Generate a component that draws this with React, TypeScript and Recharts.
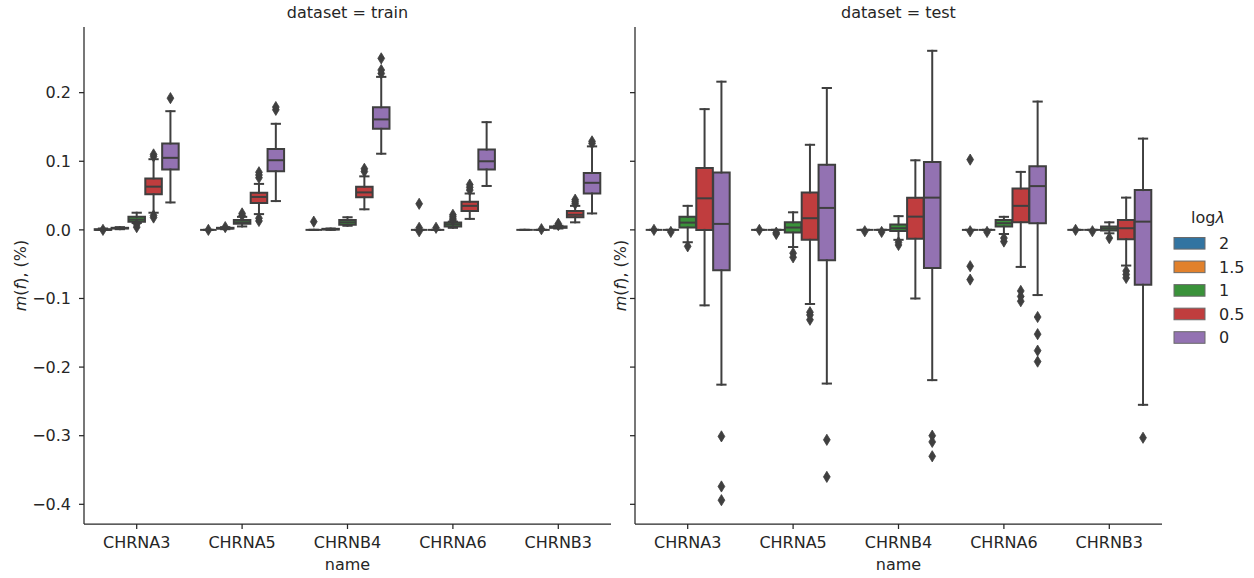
import React from 'react';
import { ComposedChart, XAxis, YAxis, Scatter, ReferenceArea, ReferenceLine } from 'recharts';

const NAMES = ['CHRNA3', 'CHRNA5', 'CHRNB4', 'CHRNA6', 'CHRNB3'];
const HUES = ['2', '1.5', '1', '0.5', '0'];
const HUE_COLORS = ['#3274a1', '#e1812c', '#3a923a', '#c03d3e', '#9372b2'];
const Y_TICKS = [-0.4, -0.3, -0.2, -0.1, 0, 0.1, 0.2];
const X_TICKS = [0, 1, 2, 3, 4];

// rows: names; columns: hues (2, 1.5, 1, 0.5, 0)
const TRAIN_LOW = [
  [0, 0.001, 0.010, 0.025, 0.040],
  [0, 0.001, 0.005, 0.023, 0.042],
  [0, 0, 0.006, 0.030, 0.111],
  [0, 0, 0.003, 0.016, 0.064],
  [0, 0, 0.002, 0.011, 0.024],
];
const TRAIN_Q1 = [
  [0, 0.002, 0.012, 0.052, 0.088],
  [0, 0.002, 0.009, 0.039, 0.0855],
  [0, 0.0005, 0.0075, 0.0474, 0.1473],
  [0, 0, 0.005, 0.0275, 0.088],
  [0, 0, 0.003, 0.0184, 0.053],
];
const TRAIN_MED = [
  [0, 0.0025, 0.015, 0.063, 0.105],
  [0, 0.002, 0.011, 0.048, 0.1015],
  [0, 0.001, 0.011, 0.0546, 0.161],
  [0, 0, 0.008, 0.035, 0.100],
  [0, 0, 0.004, 0.022, 0.0686],
];
const TRAIN_Q3 = [
  [0.001, 0.003, 0.019, 0.075, 0.126],
  [0, 0.003, 0.0145, 0.054, 0.118],
  [0, 0.0015, 0.0145, 0.0628, 0.1787],
  [0, 0, 0.0106, 0.041, 0.117],
  [0, 0, 0.005, 0.0275, 0.083],
];
const TRAIN_HIGH = [
  [0.002, 0.004, 0.025, 0.103, 0.173],
  [0, 0.004, 0.019, 0.067, 0.1546],
  [0, 0.002, 0.0184, 0.078, 0.223],
  [0, 0, 0.012, 0.053, 0.157],
  [0, 0, 0.006, 0.035, 0.1217],
];
const TRAIN_FLIERS = [
  [[0], [], [0.008, 0.004], [0.107, 0.110, 0.021, 0.018], [0.192]],
  [[0], [0.004], [0.021, 0.024], [0.076, 0.080, 0.084, 0.017, 0.013], [0.175, 0.179]],
  [[0.012], [], [], [0.085, 0.089], [0.228, 0.233, 0.250]],
  [[0.038, 0.003, -0.002], [0.003], [0.014, 0.016, 0.019, 0.022], [0.058, 0.062, 0.066], []],
  [[], [0.001], [0.007, 0.009], [0.038, 0.041, 0.044], [0.126, 0.129]],
];

const TEST_LOW = [
  [0, 0, -0.018, -0.110, -0.2256],
  [0, 0, -0.025, -0.108, -0.224],
  [0, 0, -0.0145, -0.100, -0.219],
  [0, 0, -0.006, -0.054, -0.095],
  [0, 0, -0.005, -0.052, -0.255],
];
const TEST_Q1 = [
  [0, 0, 0.0034, 0, -0.059],
  [0, 0, -0.004, -0.0145, -0.0444],
  [0, 0, -0.0015, -0.013, -0.0556],
  [0, 0, 0.0048, 0.011, 0.0097],
  [0, 0, -0.001, -0.0135, -0.080],
];
const TEST_MED = [
  [0, 0, 0.0106, 0.046, 0.0087],
  [0, 0, 0.0034, 0.017, 0.032],
  [0, 0, 0.0024, 0.0193, 0.047],
  [0, 0, 0.0097, 0.035, 0.0638],
  [0, 0, 0.002, 0.0024, 0.012],
];
const TEST_Q3 = [
  [0, 0, 0.019, 0.0903, 0.0836],
  [0, 0, 0.011, 0.0546, 0.095],
  [0, 0, 0.008, 0.047, 0.099],
  [0, 0, 0.0145, 0.0604, 0.0928],
  [0, 0, 0.0048, 0.0145, 0.058],
];
const TEST_HIGH = [
  [0, 0, 0.035, 0.176, 0.216],
  [0, 0, 0.0256, 0.124, 0.2068],
  [0, 0, 0.020, 0.1014, 0.261],
  [0, 0, 0.019, 0.0845, 0.187],
  [0, 0, 0.011, 0.047, 0.133],
];
const TEST_FLIERS = [
  [[0], [-0.003], [-0.024], [], [-0.301, -0.374, -0.394]],
  [[0], [-0.004, -0.006], [-0.034, -0.040], [-0.120, -0.124, -0.131], [-0.306, -0.360]],
  [[-0.002], [-0.003], [-0.018, -0.022], [], [-0.300, -0.309, -0.330]],
  [[0.1024, -0.002, -0.053, -0.0725], [-0.003], [-0.012, -0.017], [-0.089, -0.097, -0.104], [-0.127, -0.152, -0.176, -0.192]],
  [[0], [-0.002], [-0.012], [-0.060, -0.065, -0.070], [-0.303]],
];

const EDGE = '#3f3f3f';
const TEXT = '#262626';
const FONT = 'DejaVu Sans';
const HUE_STEP = 0.16;
const BOX_HALF = 0.0784;
const CAP_HALF = 0.0392;
const Y_DOMAIN = [-0.4287, 0.2957];

const fmtY = (v: number) => {
  if (Math.abs(v) < 1e-9) return '0.0';
  return (v < 0 ? '\u2212' : '') + Math.abs(v).toFixed(1);
};

const Diamond = (props: any) => {
  const { cx, cy } = props;
  if (cx == null || cy == null) return null;
  const hw = 3.4;
  const hh = 5.6;
  return (
    <polygon
      points={`${cx},${cy - hh} ${cx + hw},${cy} ${cx},${cy + hh} ${cx - hw},${cy}`}
      fill={EDGE}
      stroke={EDGE}
      strokeWidth={0.8}
    />
  );
};

function buildBoxes(low: number[][], q1: number[][], med: number[][], q3: number[][], high: number[][], prefix: string) {
  const areas: React.ReactNode[] = [];
  const lines: React.ReactNode[] = [];
  NAMES.forEach((_, i) => {
    HUES.forEach((__, j) => {
      const xc = i + (j - 2) * HUE_STEP;
      const k = `${prefix}-${i}-${j}`;
      const lp = { stroke: EDGE, strokeWidth: 2, ifOverflow: 'visible' as const, strokeLinecap: 'square' as const };
      if (q3[i][j] > q1[i][j]) {
        areas.push(
          <ReferenceArea
            key={`a${k}`}
            x1={xc - BOX_HALF}
            x2={xc + BOX_HALF}
            y1={q1[i][j]}
            y2={q3[i][j]}
            fill={HUE_COLORS[j]}
            fillOpacity={1}
            stroke={EDGE}
            strokeWidth={2}
            ifOverflow="visible"
          />
        );
      }
      lines.push(
        <ReferenceLine key={`wl${k}`} segment={[{ x: xc, y: low[i][j] }, { x: xc, y: q1[i][j] }]} {...lp} />,
        <ReferenceLine key={`wh${k}`} segment={[{ x: xc, y: q3[i][j] }, { x: xc, y: high[i][j] }]} {...lp} />,
        <ReferenceLine key={`cl${k}`} segment={[{ x: xc - CAP_HALF, y: low[i][j] }, { x: xc + CAP_HALF, y: low[i][j] }]} {...lp} />,
        <ReferenceLine key={`ch${k}`} segment={[{ x: xc - CAP_HALF, y: high[i][j] }, { x: xc + CAP_HALF, y: high[i][j] }]} {...lp} />,
        <ReferenceLine
          key={`m${k}`}
          segment={[{ x: xc - BOX_HALF, y: med[i][j] }, { x: xc + BOX_HALF, y: med[i][j] }]}
          stroke={EDGE}
          strokeWidth={2}
          ifOverflow="visible"
        />
      );
    });
  });
  return { areas, lines };
}

function buildFliers(fliers: number[][][]) {
  const pts: { x: number; y: number }[] = [];
  fliers.forEach((row, i) => {
    row.forEach((vals, j) => {
      const xc = i + (j - 2) * HUE_STEP;
      vals.forEach((v) => pts.push({ x: xc, y: v }));
    });
  });
  return pts;
}

const tickStyle = { fill: TEXT, fontSize: 16, fontFamily: FONT };

function Panel(props: {
  width: number;
  yAxisWidth: number;
  rightMargin: number;
  showYLabels: boolean;
  low: number[][];
  q1: number[][];
  med: number[][];
  q3: number[][];
  high: number[][];
  fliers: number[][][];
  prefix: string;
}) {
  const { areas, lines } = buildBoxes(props.low, props.q1, props.med, props.q3, props.high, props.prefix);
  const pts = buildFliers(props.fliers);
  return (
    <ComposedChart
      width={props.width}
      height={578}
      margin={{ top: 27, right: props.rightMargin, bottom: 0, left: 0 }}
    >
      <XAxis
        type="number"
        dataKey="x"
        domain={[-0.5, 4.5]}
        ticks={X_TICKS}
        interval={0}
        allowDataOverflow
        height={54}
        tickFormatter={(v: number) => NAMES[Math.round(v)] ?? ''}
        stroke={TEXT}
        strokeWidth={1.25}
        tickSize={5}
        tickMargin={8}
        tick={tickStyle}
      />
      <YAxis
        type="number"
        dataKey="y"
        domain={Y_DOMAIN}
        ticks={Y_TICKS}
        interval={0}
        allowDataOverflow
        width={props.yAxisWidth}
        tickFormatter={props.showYLabels ? fmtY : () => ''}
        stroke={TEXT}
        strokeWidth={1.25}
        tickSize={5}
        tickMargin={8}
        tick={tickStyle}
      />
      {areas}
      {lines}
      <Scatter data={pts} fill={EDGE} shape={Diamond} isAnimationActive={false} />
    </ComposedChart>
  );
}

const YTitle = ({ x, y }: { x: number; y: number }) => (
  <text
    x={x}
    y={y}
    transform={`rotate(-90 ${x} ${y})`}
    textAnchor="middle"
    dominantBaseline="central"
    fontFamily={FONT}
    fontSize={16}
    fill={TEXT}
  >
    <tspan fontStyle="italic">m</tspan>(<tspan fontStyle="italic">f</tspan>), (%)
  </text>
);

export default function App() {
  return (
    <div style={{ position: 'absolute', left: 0, top: 0, width: 1254, height: 578, background: '#fff' }}>
      <div style={{ position: 'absolute', left: 0, top: 0 }}>
        <Panel
          width={620}
          yAxisWidth={84}
          rightMargin={9}
          showYLabels
          low={TRAIN_LOW}
          q1={TRAIN_Q1}
          med={TRAIN_MED}
          q3={TRAIN_Q3}
          high={TRAIN_HIGH}
          fliers={TRAIN_FLIERS}
          prefix="tr"
        />
      </div>
      <div style={{ position: 'absolute', left: 590, top: 0 }}>
        <Panel
          width={580}
          yAxisWidth={45}
          rightMargin={8}
          showYLabels={false}
          low={TEST_LOW}
          q1={TEST_Q1}
          med={TEST_MED}
          q3={TEST_Q3}
          high={TEST_HIGH}
          fliers={TEST_FLIERS}
          prefix="te"
        />
      </div>
      <svg
        width={1254}
        height={578}
        style={{ position: 'absolute', left: 0, top: 0, pointerEvents: 'none' }}
      >
        <text x={347.5} y={18.3} textAnchor="middle" fontFamily={FONT} fontSize={16} fill={TEXT}>
          dataset = train
        </text>
        <text x={898.5} y={18.3} textAnchor="middle" fontFamily={FONT} fontSize={16} fill={TEXT}>
          dataset = test
        </text>
        <YTitle x={20} y={275.5} />
        <YTitle x={620} y={275.5} />
        <text x={347.5} y={570} textAnchor="middle" fontFamily={FONT} fontSize={16} fill={TEXT}>
          name
        </text>
        <text x={898.5} y={570} textAnchor="middle" fontFamily={FONT} fontSize={16} fill={TEXT}>
          name
        </text>
        <text x={1208} y={223} textAnchor="middle" fontFamily={FONT} fontSize={16} fill={TEXT}>
          log<tspan fontStyle="italic">λ</tspan>
        </text>
        {HUES.map((h, j) => {
          const cy = 243.3 + j * 23.55;
          return (
            <g key={h}>
              <rect x={1174} y={cy - 5.8} width={31} height={11.6} fill={HUE_COLORS[j]} stroke="#6a6a6a" strokeWidth={1} />
              <text x={1219} y={cy + 5.7} fontFamily={FONT} fontSize={16} fill={TEXT}>
                {h}
              </text>
            </g>
          );
        })}
      </svg>
    </div>
  );
}
